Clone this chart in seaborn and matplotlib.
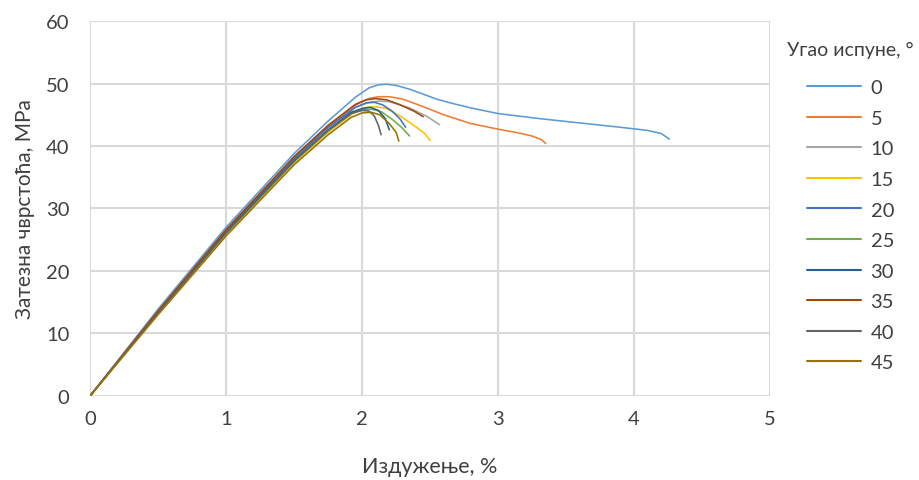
import numpy as np
import pandas as pd
import matplotlib
matplotlib.use("Agg")
import matplotlib.pyplot as plt
import seaborn as sns

# Tensile stress-strain curves for each infill angle
angles = ["0", "5", "10", "15", "20", "25", "30", "35", "40", "45"]

strain_0 = [0, 0.5, 1.0, 1.5, 1.75, 1.95, 2.05, 2.12, 2.18, 2.25, 2.35, 2.45, 2.55, 2.65, 2.8,
            3.0, 3.3, 3.6, 3.9, 4.1, 4.2, 4.26]
stress_0 = [0, 13.9, 27.0, 38.8, 44.0, 47.8, 49.3, 49.8, 49.9, 49.7, 49.1, 48.3, 47.5, 46.9, 46.1,
            45.2, 44.4, 43.7, 43.0, 42.5, 42.0, 41.1]

strain_5 = [0, 0.5, 1.0, 1.5, 1.75, 1.95, 2.05, 2.12, 2.2, 2.3, 2.45, 2.6, 2.8, 3.0, 3.15, 3.25, 3.32, 3.35]
stress_5 = [0, 13.6, 26.6, 38.3, 43.3, 46.7, 47.6, 47.9, 47.9, 47.5, 46.3, 45.0, 43.6, 42.7, 42.1, 41.6, 41.0, 40.4]

strain_10 = [0, 0.5, 1.0, 1.5, 1.75, 1.95, 2.05, 2.12, 2.2, 2.35, 2.48, 2.57]
stress_10 = [0, 13.5, 26.4, 38.0, 43.0, 46.2, 47.0, 47.2, 47.1, 46.1, 44.7, 43.4]

strain_15 = [0, 0.5, 1.0, 1.5, 1.75, 1.95, 2.03, 2.1, 2.18, 2.28, 2.4, 2.46, 2.5]
stress_15 = [0, 13.2, 25.9, 37.3, 42.2, 45.5, 46.2, 46.3, 46.0, 44.8, 43.0, 42.0, 40.9]

strain_20 = [0, 0.5, 1.0, 1.5, 1.75, 1.95, 2.03, 2.09, 2.15, 2.22, 2.28, 2.32]
stress_20 = [0, 13.5, 26.4, 38.0, 43.0, 46.2, 46.9, 47.0, 46.6, 45.6, 44.3, 43.0]

strain_25 = [0, 0.5, 1.0, 1.5, 1.75, 1.92, 2.0, 2.07, 2.14, 2.22, 2.29, 2.35]
stress_25 = [0, 13.3, 26.0, 37.5, 42.4, 45.2, 45.8, 45.9, 45.5, 44.3, 43.0, 41.6]

strain_30 = [0, 0.5, 1.0, 1.5, 1.75, 1.92, 2.0, 2.06, 2.12, 2.17, 2.2]
stress_30 = [0, 13.4, 26.2, 37.7, 42.6, 45.4, 46.0, 46.2, 45.7, 44.4, 42.6]

strain_35 = [0, 0.5, 1.0, 1.5, 1.75, 1.95, 2.03, 2.1, 2.18, 2.28, 2.38, 2.45]
stress_35 = [0, 13.6, 26.6, 38.3, 43.3, 46.6, 47.4, 47.6, 47.4, 46.6, 45.6, 44.7]

strain_40 = [0, 0.5, 1.0, 1.5, 1.75, 1.92, 2.0, 2.05, 2.09, 2.12, 2.14]
stress_40 = [0, 13.3, 26.1, 37.6, 42.5, 45.2, 45.7, 45.6, 44.8, 43.3, 41.8]

strain_45 = [0, 0.5, 1.0, 1.5, 1.75, 1.92, 2.0, 2.07, 2.13, 2.2, 2.25, 2.27]
stress_45 = [0, 13.0, 25.6, 37.0, 41.8, 44.6, 45.3, 45.4, 45.0, 43.6, 42.2, 40.8]

strains = [strain_0, strain_5, strain_10, strain_15, strain_20,
           strain_25, strain_30, strain_35, strain_40, strain_45]
stresses = [stress_0, stress_5, stress_10, stress_15, stress_20,
            stress_25, stress_30, stress_35, stress_40, stress_45]

colors = ["#5B9BD5", "#ED7D31", "#A5A5A5", "#FFC000", "#4472C4",
          "#70AD47", "#255E91", "#9E480E", "#636363", "#997300"]

frames = []
for a, xs, ys in zip(angles, strains, stresses):
    frames.append(pd.DataFrame({"angle": a, "strain": xs, "stress": ys}))
df = pd.concat(frames, ignore_index=True)

sns.set_theme(style="white")
plt.rcParams["font.family"] = ["Lato", "DejaVu Sans"]

fig = plt.figure(figsize=(9.2, 4.81), dpi=100)
ax = fig.add_axes([0.098, 0.175, 0.739, 0.779])

sns.lineplot(data=df, x="strain", y="stress", hue="angle", hue_order=angles,
             palette=dict(zip(angles, colors)), sort=False, estimator=None,
             units="angle", linewidth=1.15, ax=ax, legend=True)

ax.set_xlim(0, 5)
ax.set_ylim(0, 60)
ax.set_xticks(range(0, 6))
ax.set_yticks(range(0, 61, 10))
ax.grid(True, color="#D9D9D9", linewidth=1.5)
ax.set_axisbelow(True)
for s in ax.spines.values():
    s.set_visible(False)

txt = "#404040"
ax.tick_params(axis="y", length=0, labelsize=14.5, labelcolor=txt, pad=15)
ax.tick_params(axis="x", length=0, labelsize=14.5, labelcolor=txt, pad=10)
ax.set_xlabel("Издужење, %", fontsize=15.5, color=txt, labelpad=21)
ax.set_ylabel("Затезна чврстоћа, МРа", fontsize=15, color=txt, labelpad=8)

handles, labels = ax.get_legend_handles_labels()
ax.legend_.remove()
leg = fig.legend(handles, labels, title="Угао испуне, °",
                 loc="upper left", bbox_to_anchor=(0.836, 0.95),
                 frameon=False, fontsize=14.5, title_fontsize=14,
                 handlelength=2.7, labelspacing=0.67, handletextpad=0.45)
leg._legend_box.sep = 15
for t in leg.get_texts():
    t.set_color(txt)
leg.get_title().set_color(txt)
for h in leg.legend_handles:
    h.set_linewidth(1.5)

fig.savefig("out.png", dpi=100)
